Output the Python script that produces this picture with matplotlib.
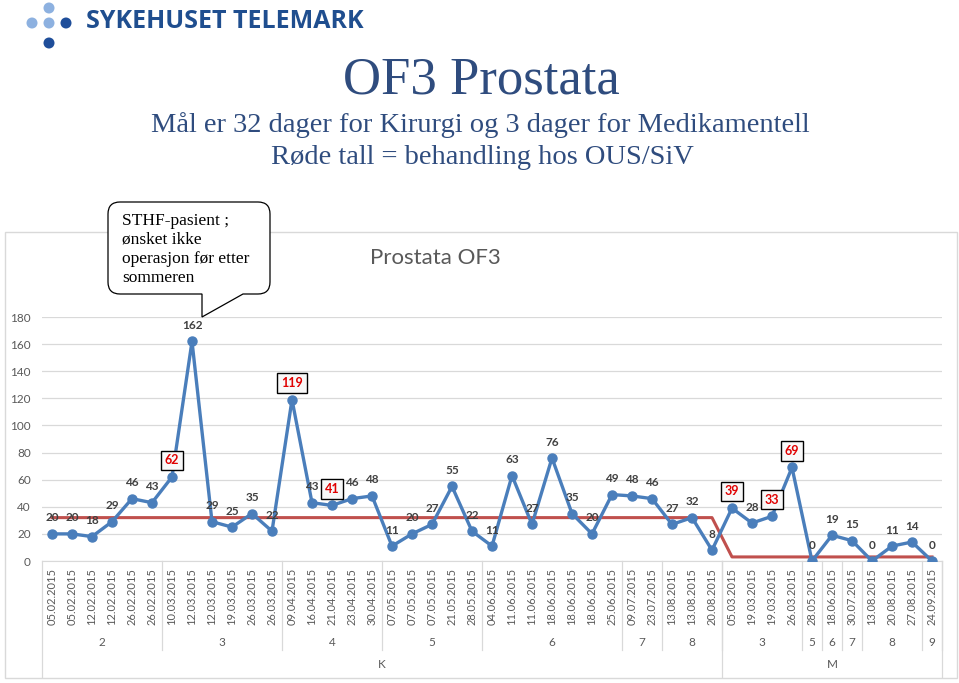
import matplotlib.pyplot as plt
import numpy as np
from matplotlib.patches import Circle, PathPatch, Rectangle
from matplotlib.path import Path
from matplotlib.transforms import Affine2D, blended_transform_factory

# data
datoer = ["05.02.2015", "05.02.2015", "12.02.2015", "12.02.2015", "26.02.2015", "26.02.2015",
          "10.03.2015", "12.03.2015", "12.03.2015", "19.03.2015", "26.03.2015", "26.03.2015",
          "09.04.2015", "16.04.2015", "21.04.2015", "23.04.2015", "30.04.2015",
          "07.05.2015", "07.05.2015", "07.05.2015", "21.05.2015", "28.05.2015",
          "04.06.2015", "11.06.2015", "11.06.2015", "18.06.2015", "18.06.2015", "18.06.2015", "25.06.2015",
          "09.07.2015", "23.07.2015",
          "13.08.2015", "13.08.2015", "20.08.2015",
          "05.03.2015", "19.03.2015", "19.03.2015", "26.03.2015",
          "28.05.2015", "18.06.2015", "30.07.2015",
          "13.08.2015", "20.08.2015", "27.08.2015", "24.09.2015"]
dager = [20, 20, 18, 29, 46, 43,
         62, 162, 29, 25, 35, 22,
         119, 43, 41, 46, 48,
         11, 20, 27, 55, 22,
         11, 63, 27, 76, 35, 20, 49,
         48, 46,
         27, 32, 8,
         39, 28, 33, 69,
         0, 19, 15,
         0, 11, 14, 0]
# behandling hos OUS/SiV (røde tall)
ous = [6, 12, 14, 34, 36, 37]
# mål: 32 dager kirurgi (K), 3 dager medikamentell (M)
maal = [32] * 34 + [3] * 11
maaned_grupper = [("2", 6), ("3", 6), ("4", 5), ("5", 5), ("6", 7), ("7", 2), ("8", 3),
                  ("3", 4), ("5", 1), ("6", 1), ("7", 1), ("8", 3), ("9", 1)]
type_grupper = [("K", 34), ("M", 11)]

W, H = 959, 683
fig = plt.figure(figsize=(W / 100, H / 100), dpi=100)
px = Affine2D().scale(1 / W, -1 / H).translate(0, 1) + fig.transFigure

# logo
lys = "#8DB1E0"
mork = "#1F4E9A"
for (cx, cy), c in zip([(49, 8), (32, 23), (49, 23), (66, 23), (49, 43)],
                       [lys, lys, lys, mork, mork]):
    fig.add_artist(Circle((cx, cy), 5.5, transform=px, color=c, lw=0))
fig.text(86 / W, 1 - 21 / H, "SYKEHUSET TELEMARK", fontsize=18, fontweight="bold",
         color="#1F4E8F", family="Open Sans", ha="left", va="center")

# overskrifter
tittel_farge = "#2F4C7E"
fig.text(481 / W, 1 - 80 / H, "OF3 Prostata", fontsize=38, family="Liberation Serif",
         color=tittel_farge, ha="center", va="center")
fig.text(480 / W, 1 - 125 / H, "Mål er 32 dager for Kirurgi og 3 dager for Medikamentell",
         fontsize=20.5, family="Liberation Serif", color=tittel_farge, ha="center", va="center")
fig.text(482 / W, 1 - 158 / H, "Røde tall = behandling hos OUS/SiV",
         fontsize=20.5, family="Liberation Serif", color=tittel_farge, ha="center", va="center")

# diagramramme
fig.add_artist(Rectangle((5, 232), 952, 446, transform=px, fill=False, ec="#D9D9D9", lw=1))
fig.text(435 / W, 1 - 258 / H, "Prostata OF3", fontsize=16, family="Lato",
         color="#595959", ha="center", va="center")

ax = fig.add_axes([42 / W, (H - 561) / H, 900 / W, 244 / H])
x = np.arange(len(dager))
ax.plot(x, maal, color="#C0504D", lw=2.2, zorder=2)
ax.plot(x, dager, color="#4A7EBB", lw=2.4, marker="o", markersize=6.5, zorder=3)
ax.set_xlim(-0.5, len(dager) - 0.5)
ax.set_ylim(0, 180)
ax.set_yticks(range(0, 181, 20))
ax.yaxis.grid(True, color="#D9D9D9", lw=0.9)
ax.set_axisbelow(True)
for s in ["top", "right", "left"]:
    ax.spines[s].set_visible(False)
ax.spines["bottom"].set_color("#D9D9D9")
ax.tick_params(axis="y", length=0, pad=8, labelsize=8.5, labelcolor="#595959")
ax.tick_params(axis="x", length=0, pad=5, labelsize=8, labelcolor="#595959")
ax.set_xticks(x)
ax.set_xticklabels(datoer, rotation=90, family="Lato")
for lab in ax.get_yticklabels():
    lab.set_family("Lato")

# dataetiketter
for i, v in enumerate(dager):
    if i in ous:
        ax.annotate(str(v), (i, v), xytext=(0, 12), textcoords="offset points",
                    ha="center", va="center", fontsize=9, fontweight="bold", color="#E00000",
                    family="Lato", zorder=5,
                    bbox=dict(boxstyle="square,pad=0.3", fc="#F8F8F8", ec="black", lw=1))
    else:
        ax.annotate(str(v), (i, v), xytext=(0, 11.5), textcoords="offset points",
                    ha="center", va="center", fontsize=8.5, fontweight="bold", color="#404040",
                    family="Lato", zorder=5)

# gruppeetiketter under aksen
tr = blended_transform_factory(ax.transData, ax.transAxes)
pos = -0.5
ax.plot([pos, pos], [0, -0.475], transform=tr, color="#D9D9D9", lw=0.9, clip_on=False)
for navn, n in maaned_grupper:
    ax.text(pos + n / 2, -0.332, navn, transform=tr, ha="center", va="center",
            fontsize=8.5, color="#595959", family="Lato")
    pos += n
    ax.plot([pos, pos], [0, -0.365], transform=tr, color="#D9D9D9", lw=0.9, clip_on=False)
pos = -0.5
for navn, n in type_grupper:
    ax.text(pos + n / 2, -0.426, navn, transform=tr, ha="center", va="center",
            fontsize=8.5, color="#595959", family="Lato")
    pos += n
    ax.plot([pos, pos], [0, -0.475], transform=tr, color="#D9D9D9", lw=0.9, clip_on=False)

# snakkeboble
x0, x1, y0, y1, r = 108, 270, 202, 294, 12
verts = [(x0 + r, y0), (x1 - r, y0), (x1, y0), (x1, y0 + r), (x1, y1 - r), (x1, y1), (x1 - r, y1),
         (243, y1), (202, 317), (202, y1), (x0 + r, y1), (x0, y1), (x0, y1 - r),
         (x0, y0 + r), (x0, y0), (x0 + r, y0), (x0 + r, y0)]
codes = [Path.MOVETO, Path.LINETO, Path.CURVE3, Path.CURVE3, Path.LINETO, Path.CURVE3, Path.CURVE3,
         Path.LINETO, Path.LINETO, Path.LINETO, Path.LINETO, Path.CURVE3, Path.CURVE3,
         Path.LINETO, Path.CURVE3, Path.CURVE3, Path.CLOSEPOLY]
boble = PathPatch(Path(verts, codes), transform=px, fc="white", ec="black", lw=0.9, zorder=10)
fig.add_artist(boble)
fig.text(122 / W, 1 - 213 / H, "STHF-pasient ;\nønsket ikke\noperasjon før etter\nsommeren",
         fontsize=12.5, family="Liberation Serif", color="black", ha="left", va="top",
         linespacing=1.25, zorder=11)

fig.savefig("out.png", dpi=100)
